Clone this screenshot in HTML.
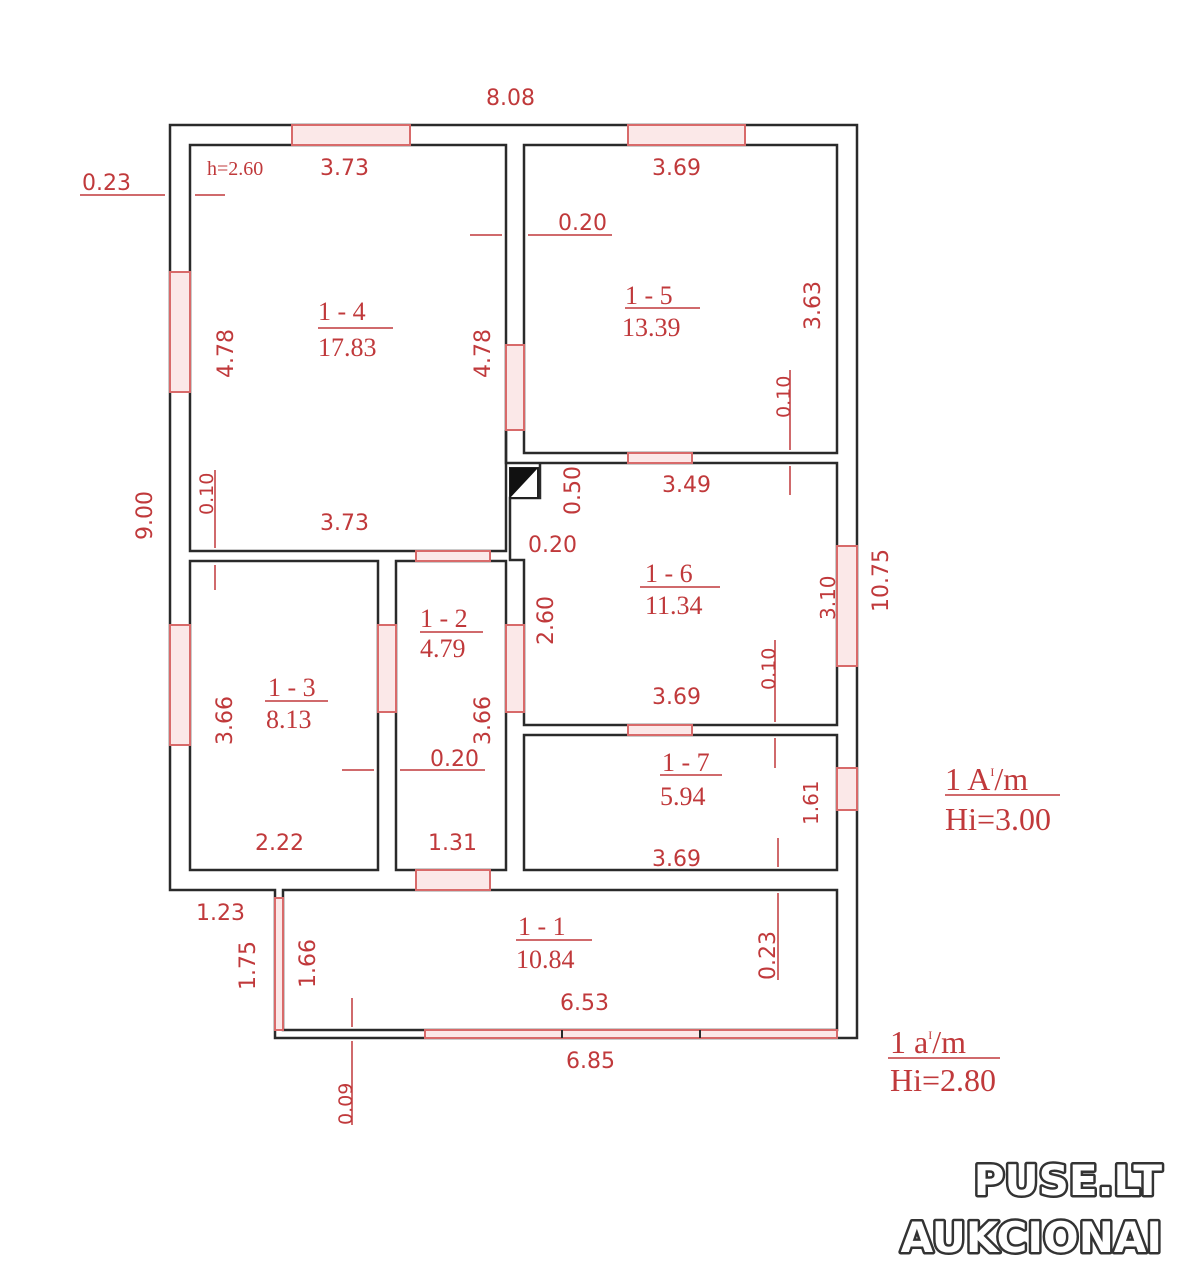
<!DOCTYPE html>
<html><head><style>
html,body{margin:0;padding:0;background:#fff;}
svg{display:block;}
text{font-family:"DejaVu Sans","Liberation Sans",sans-serif;fill:#c0393b;}
.s{font-family:"Liberation Serif",serif;}
</style></head><body>
<svg width="1192" height="1280" viewBox="0 0 1192 1280" xmlns="http://www.w3.org/2000/svg">
<g fill="none" stroke="#2a2a2a" stroke-width="2.5">
<path d="M170 125 H857 V1038 H275 V890 H170 Z"/>
<rect x="190" y="145" width="316" height="406"/>
<rect x="524" y="145" width="313" height="308"/>
<path d="M524 463 H837 V725 H524 V560 H510 V498 H540 V463 Z" />
<rect x="524" y="735" width="313" height="135"/>
<rect x="190" y="561" width="188" height="309"/>
<rect x="396" y="561" width="110" height="309"/>
<path d="M283 890 H837 V1030 H283 Z"/>
<path d="M506 430 V463 H524"/>
</g>
<rect x="510" y="468" width="28" height="30" fill="#fff" stroke="#222" stroke-width="2"/>
<polygon points="510,468 538,468 510,498" fill="#111"/>
<g fill="#fbe8e8" stroke="#d86a6a" stroke-width="2">
<rect x="292" y="125" width="118" height="20"/>
<rect x="628" y="125" width="117" height="20"/>
<rect x="170" y="272" width="20" height="120"/>
<rect x="170" y="625" width="20" height="120"/>
<rect x="837" y="546" width="20" height="120"/>
<rect x="837" y="768" width="20" height="42"/>
<rect x="416" y="551" width="74" height="10"/>
<rect x="628" y="453" width="64" height="10"/>
<rect x="628" y="725" width="64" height="10"/>
<rect x="416" y="870" width="74" height="20"/>
<rect x="506" y="345" width="18" height="85"/>
<rect x="378" y="625" width="18" height="87"/>
<rect x="506" y="625" width="18" height="87"/>
<rect x="275" y="898" width="8" height="132"/>
<rect x="425" y="1030" width="412" height="8"/>
</g>
<g stroke="#2a2a2a" stroke-width="2"><line x1="562" y1="1030" x2="562" y2="1038"/><line x1="700" y1="1030" x2="700" y2="1038"/></g>
<g stroke="#c0393b" stroke-width="1.5" fill="#c0393b">
<line x1="80" y1="195" x2="165" y2="195"/><line x1="195" y1="195" x2="225" y2="195"/>
<line x1="470" y1="235" x2="502" y2="235"/><line x1="528" y1="235" x2="612" y2="235"/>
<line x1="790" y1="370" x2="790" y2="450"/><line x1="790" y1="466" x2="790" y2="495"/>
<line x1="215" y1="470" x2="215" y2="548"/><line x1="215" y1="565" x2="215" y2="590"/>
<line x1="342" y1="770" x2="374" y2="770"/><line x1="400" y1="770" x2="485" y2="770"/>
<line x1="775" y1="640" x2="775" y2="722"/><line x1="775" y1="738" x2="775" y2="768"/>
<line x1="778" y1="838" x2="778" y2="867"/><line x1="778" y1="893" x2="778" y2="980"/>
<line x1="352" y1="998" x2="352" y2="1027"/><line x1="352" y1="1041" x2="352" y2="1125"/>
<line x1="625" y1="308" x2="700" y2="308"/><line x1="318" y1="328" x2="393" y2="328"/>
<line x1="640" y1="587" x2="720" y2="587"/><line x1="265" y1="701" x2="328" y2="701"/>
<line x1="420" y1="632" x2="483" y2="632"/><line x1="660" y1="775" x2="722" y2="775"/>
<line x1="516" y1="940" x2="592" y2="940"/>
<line x1="945" y1="795" x2="1060" y2="795"/><line x1="888" y1="1058" x2="1000" y2="1058"/>
</g>
<g font-size="22">
<text x="486" y="105">8.08</text>
<text x="82" y="190">0.23</text>
<text x="207" y="175" class="s" font-size="20">h=2.60</text>
<text x="320" y="175">3.73</text>
<text x="652" y="175">3.69</text>
<text x="558" y="230">0.20</text>
<text x="318" y="320" class="s" font-size="26">1 - 4</text>
<text x="318" y="356" class="s" font-size="26">17.83</text>
<text x="625" y="304" class="s" font-size="26">1 - 5</text>
<text x="622" y="336" class="s" font-size="26">13.39</text>
<text x="320" y="530">3.73</text>
<text x="662" y="492">3.49</text>
<text x="528" y="552">0.20</text>
<text x="645" y="582" class="s" font-size="26">1 - 6</text>
<text x="645" y="614" class="s" font-size="26">11.34</text>
<text x="420" y="627" class="s" font-size="26">1 - 2</text>
<text x="420" y="657" class="s" font-size="26">4.79</text>
<text x="268" y="696" class="s" font-size="26">1 - 3</text>
<text x="266" y="728" class="s" font-size="26">8.13</text>
<text x="652" y="704">3.69</text>
<text x="430" y="766">0.20</text>
<text x="662" y="771" class="s" font-size="26">1 - 7</text>
<text x="660" y="805" class="s" font-size="26">5.94</text>
<text x="255" y="850">2.22</text>
<text x="428" y="850">1.31</text>
<text x="652" y="866">3.69</text>
<text x="196" y="920">1.23</text>
<text x="518" y="935" class="s" font-size="26">1 - 1</text>
<text x="516" y="968" class="s" font-size="26">10.84</text>
<text x="560" y="1010">6.53</text>
<text x="566" y="1068">6.85</text>
<text x="945" y="790" class="s" font-size="32">1 A<tspan font-size="12" dy="-14">I</tspan><tspan dy="14">/m</tspan></text>
<text x="945" y="830" class="s" font-size="32">Hi=3.00</text>
<text x="890" y="1053" class="s" font-size="32">1 a<tspan font-size="12" dy="-14">I</tspan><tspan dy="14">/m</tspan></text>
<text x="890" y="1091" class="s" font-size="32">Hi=2.80</text>
<text transform="translate(152,540) rotate(-90)">9.00</text>
<text transform="translate(233,378) rotate(-90)">4.78</text>
<text transform="translate(490,378) rotate(-90)">4.78</text>
<text transform="translate(820,330) rotate(-90)">3.63</text>
<text transform="translate(790,418) rotate(-90)" font-size="19">0.10</text>
<text transform="translate(213,515) rotate(-90)" font-size="19">0.10</text>
<text transform="translate(580,515) rotate(-90)">0.50</text>
<text transform="translate(553,645) rotate(-90)">2.60</text>
<text transform="translate(835,620) rotate(-90)" font-size="20">3.10</text>
<text transform="translate(888,612) rotate(-90)">10.75</text>
<text transform="translate(775,690) rotate(-90)" font-size="19">0.10</text>
<text transform="translate(232,745) rotate(-90)">3.66</text>
<text transform="translate(490,745) rotate(-90)">3.66</text>
<text transform="translate(818,825) rotate(-90)" font-size="20">1.61</text>
<text transform="translate(775,980) rotate(-90)">0.23</text>
<text transform="translate(255,990) rotate(-90)">1.75</text>
<text transform="translate(315,988) rotate(-90)">1.66</text>
<text transform="translate(352,1125) rotate(-90)" font-size="19">0.09</text>
</g>
<g font-family="Liberation Sans, sans-serif" font-weight="bold" font-size="42" stroke="#333" stroke-width="5" paint-order="stroke" stroke-linejoin="round">
<text x="1162" y="1195" text-anchor="end" style="fill:#fff">PUSE.LT</text>
<text x="1162" y="1252" text-anchor="end" style="fill:#fff">AUKCIONAI</text>
</g>
</svg>
</body></html>
